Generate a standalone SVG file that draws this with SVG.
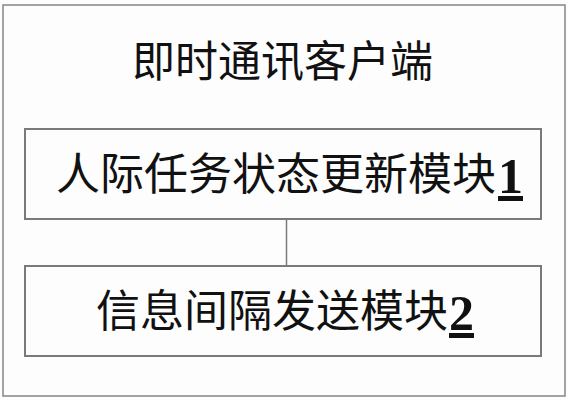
<svg xmlns="http://www.w3.org/2000/svg" width="568" height="400" viewBox="0 0 568 400">
<style>
.frame{fill:none;stroke:#858585;stroke-width:1.5}
.box{fill:none;stroke:#7a7a7a;stroke-width:2}
.conn{stroke:#7a7a7a;stroke-width:1.5}
.cjk{font-family:"Noto Sans CJK SC","Noto Sans CJK JP",sans-serif;fill:#111;font-weight:400}
.num{font-family:"Liberation Serif","Times New Roman",serif;font-weight:bold;text-decoration:underline;fill:#111}
</style>
<rect width="568" height="400" fill="#fdfdfd"/>
<g id="client">
<rect class="frame" x="3" y="5" width="562" height="391"/>
<text class="cjk" x="132" y="77" font-size="43">即时通讯客户端</text>
</g>
<g id="connectors">
<line class="conn" x1="286.5" y1="219" x2="286.5" y2="266"/>
</g>
<g id="module1">
<rect class="box" x="25" y="129" width="516" height="90"/>
<text class="cjk" x="56" y="190" font-size="44">人际任务状态更新模块<tspan class="num" font-size="50" dx="2" y="193">1</tspan></text>
</g>
<g id="module2">
<rect class="box" x="25" y="266" width="516" height="90"/>
<text class="cjk" x="96" y="327" font-size="44">信息间隔发送模块<tspan class="num" font-size="50" dx="1" y="330">2</tspan></text>
</g>
</svg>
